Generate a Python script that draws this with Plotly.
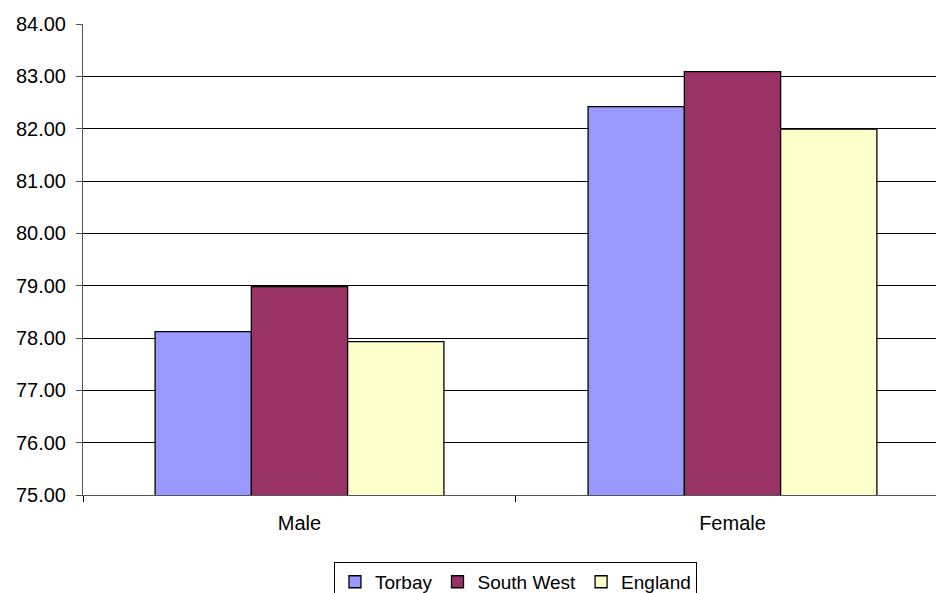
import plotly.graph_objects as go

categories = ["Male", "Female"]
series_names = ["Torbay", "South West", "England"]
torbay = [78.12, 82.42]
south_west = [78.98, 83.09]
england = [77.93, 81.99]
colors = ["#9999FF", "#993366", "#FFFFCC"]

FONT = "Liberation Sans, Arial, sans-serif"

fig = go.Figure()
for name, vals, col in zip(series_names, [torbay, south_west, england], colors):
    fig.add_trace(go.Bar(
        x=categories, y=vals, name=name,
        marker=dict(color=col, line=dict(color="#000000", width=1.3)),
    ))

fig.update_layout(
    width=936, height=593,
    margin=dict(l=83, r=0, t=24, b=98, autoexpand=False),
    paper_bgcolor="white", plot_bgcolor="white",
    barmode="group", bargap=0.333, bargroupgap=0,
    font=dict(family=FONT, size=20, color="#000000"),
    showlegend=True,
    legend=dict(
        orientation="h", x=0.507, xanchor="center", y=-0.142, yanchor="top",
        bordercolor="#000000", borderwidth=1, itemwidth=30,
        font=dict(family=FONT, size=19), traceorder="normal",
        tracegroupgap=0,
    ),
    xaxis=dict(
        type="category", range=[-0.5, 1.47],
        showline=True, linecolor="#555555", linewidth=1,
        ticks="outside", tickson="boundaries", ticklen=6, tickcolor="#000000",
        ticklabelstandoff=10,
        showgrid=False, tickfont=dict(size=20),
    ),
    yaxis=dict(
        range=[75, 84], dtick=1, tick0=75, tickformat=".2f",
        showline=True, linecolor="#555555", linewidth=1,
        ticks="outside", ticklen=6, tickcolor="#555555",
        ticklabelstandoff=6,
        showgrid=True, gridcolor="#000000", gridwidth=1,
        zeroline=False, tickfont=dict(size=20),
    ),
)

fig.write_html("out.html")
